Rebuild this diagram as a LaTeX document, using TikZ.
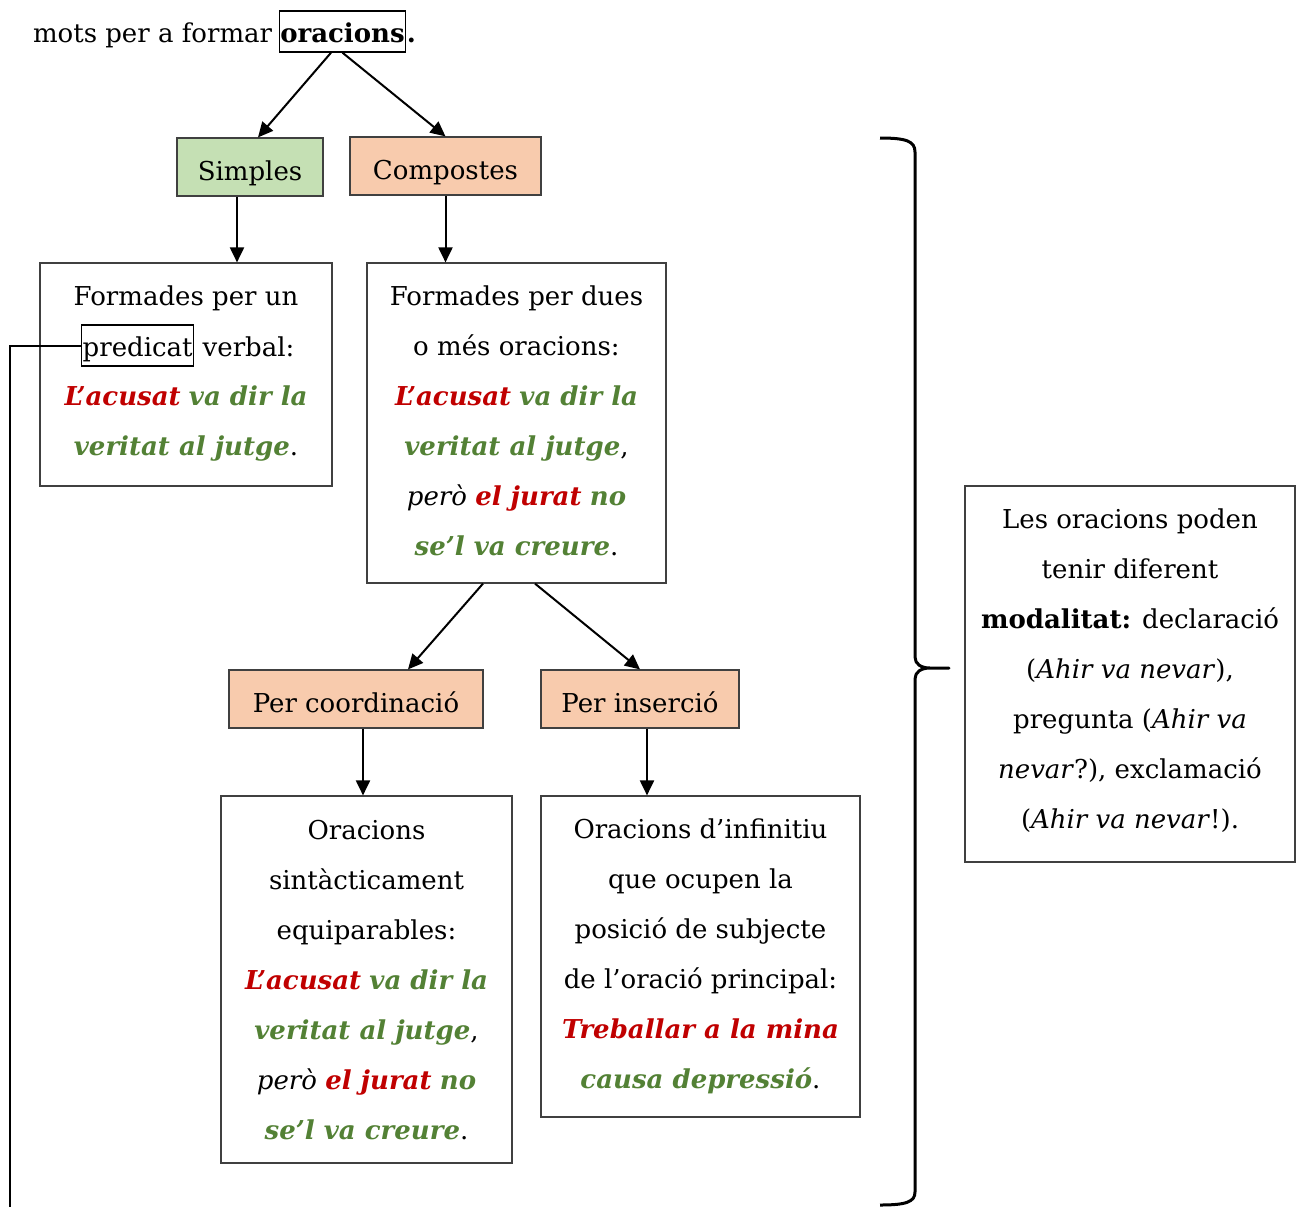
\documentclass[tikz,border=0pt]{standalone}
\usepackage{fontspec}
\setmainfont{DejaVu Serif}
\usepackage{tikz}
\usetikzlibrary{arrows.meta,positioning}
\definecolor{vermell}{HTML}{C00000}
\definecolor{verd}{HTML}{538135}
\definecolor{fonsverd}{HTML}{C5E0B4}
\definecolor{fonstaronja}{HTML}{F8CBAD}
\definecolor{vora}{HTML}{404040}
\newcommand{\subj}[1]{\textcolor{vermell}{\textbf{\textit{#1}}}}
\newcommand{\pred}[1]{\textcolor{verd}{\textbf{\textit{#1}}}}
\newcommand{\tancar}[1]{\rule[-#1]{0pt}{1pt}}

\begin{document}
\begin{tikzpicture}[x=0.5pt,y=-0.5pt]
\tikzset{base/.style={text=black, align=center, font=\fontsize{13}{25}\selectfont}, }
\tikzset{caixa node/.style={base, draw=vora, line width=0.6pt, inner sep=0pt}, }
\tikzset{simple node/.style={caixa node, fill=fonsverd, minimum height=29pt, text height=13pt, text depth=0pt}, }
\tikzset{compost node/.style={caixa node, fill=fonstaronja, minimum height=29pt, text height=13pt, text depth=0pt}, }
\tikzset{marc node/.style={base, draw=black, line width=0.7pt, inner xsep=0.5pt, inner ysep=1pt, text height=14.5pt, text depth=4pt}, }
\tikzset{linea/.style={-{Triangle[length=7.5pt,width=7pt]}, line width=1pt},}
\useasboundingbox (0,0) rectangle (1302,1207);

% primera linia
\node[marc node, anchor=base] (oracions) at (342.5,42) {\textbf{oracions}};
\node[base, inner sep=0pt, base left=3pt of oracions] (mots) {mots per a formar};
\node[base, inner sep=0pt, base right=0pt of oracions] (punt) {\textbf{.}};

% tipus d'oracions
\node[simple node, minimum width=73pt] (simples) at (250,167) {Simples};
\node[compost node, minimum width=95.5pt] (compostes) at (445.5,166) {Compostes};

\node[caixa node, minimum width=146pt, minimum height=111.5pt] (unverb) at (186,374.5)
  {Formades per un\strut\\ \strut\\
   \subj{L’acusat} \pred{va dir la}\\
   \pred{veritat al jutge}.\strut\tancar{12pt}};
\node[marc node, anchor=base west] (predicat) at (81,356) {predicat};
\node[base, inner sep=0pt, base right=4pt of predicat] (verbal) {verbal:};

\node[caixa node, minimum width=149.5pt, minimum height=160pt] (dues) at (516.5,423)
  {Formades per dues\strut\\
   o més oracions:\\
   \subj{L’acusat} \pred{va dir la}\\
   \pred{veritat al jutge},\\
   \textit{però} \subj{el jurat} \pred{no}\\
   \pred{se’l va creure}.\strut\tancar{10.5pt}};

\node[compost node, minimum width=127pt] (coord) at (356,699) {Per coordinació};
\node[compost node, minimum width=99pt] (insercio) at (640,699) {Per inserció};

\node[caixa node, minimum width=145.5pt, minimum height=183.5pt] (equip) at (366.5,979.5)
  {Oracions\strut\\
   sintàcticament\\
   equiparables:\\
   \subj{L’acusat} \pred{va dir la}\\
   \pred{veritat al jutge},\\
   \textit{però} \subj{el jurat} \pred{no}\\
   \pred{se’l va creure}.\strut};
\node[caixa node, minimum width=159.5pt, minimum height=160.5pt] (infinitiu) at (700.5,956.5)
  {Oracions d’infinitiu\strut\\
   que ocupen la\\
   posició de subjecte\\
   de l’oració principal:\\
   \subj{Treballar a la mina}\\
   \pred{causa depressió}.\strut\tancar{11pt}};

\node[caixa node, minimum width=165pt, minimum height=188pt] (modalitat) at (1130,674)
  {Les oracions poden\strut\\
   tenir diferent\\
   \textbf{modalitat:} declaració\\
   (\textit{Ahir va nevar}),\\
   pregunta (\textit{Ahir va}\\
   \textit{nevar}?), exclamació\\
   (\textit{Ahir va nevar}!).\strut\tancar{13.5pt}};

% fletxes
\draw[linea] ([xshift=-5.75pt]oracions.south) -- ([xshift=4pt]simples.north);
\draw[linea] (oracions.south) -- (compostes.north);
\draw[linea] ([xshift=-6.5pt]simples.south) -- ([xshift=-6.5pt]simples.south |- unverb.north);
\draw[linea] (compostes.south) -- (compostes.south |- dues.north);
\draw[linea] ([xshift=-16.75pt]dues.south) -- ([xshift=26pt]coord.north);
\draw[linea] ([xshift=9.25pt]dues.south) -- (insercio.north);
\draw[linea] ([xshift=3.5pt]coord.south) -- ([xshift=3.5pt]coord.south |- equip.north);
\draw[linea] ([xshift=3.5pt]insercio.south) -- ([xshift=3.5pt]insercio.south |- infinitiu.north);

% clau
\draw[line width=1.5pt, line join=round]
  (880,138) .. controls (906,138) and (915,141) .. (915,152) -- (915,657)
  .. controls (915,664) and (921,668) .. (930,668) -- (949,668) -- (930,668)
  .. controls (921,668) and (915,672) .. (915,679) -- (915,1192)
  .. controls (915,1202) and (906,1205) .. (880,1205);
% linia esquerra
\coordinate (vorabaix) at (10,1207);
\draw[line width=1pt] (predicat.west) -| (vorabaix);
\end{tikzpicture}
\end{document}
